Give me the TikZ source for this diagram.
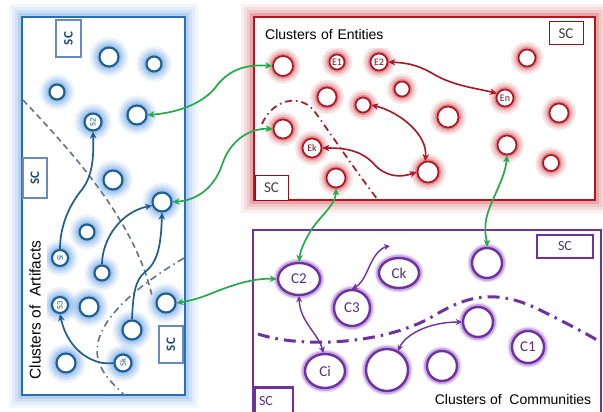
\documentclass[tikz,border=0pt]{standalone}
\usepackage{graphicx}
\usepackage{fontspec}
\setmainfont{Liberation Sans}
\newfontfamily\calfont{Carlito}
\usetikzlibrary{arrows.meta,shapes.geometric}

\definecolor{bline}{RGB}{40,110,180}
\definecolor{bstroke}{RGB}{30,95,145}
\definecolor{bglowc}{RGB}{100,160,230}
\definecolor{scblue}{RGB}{100,140,195}
\definecolor{rline}{RGB}{185,20,30}
\definecolor{rstroke}{RGB}{175,20,35}
\definecolor{rglowc}{RGB}{210,70,75}
\definecolor{pline}{RGB}{112,48,160}
\definecolor{pglowc}{RGB}{150,90,205}
\definecolor{ptext}{RGB}{90,45,130}
\definecolor{gline}{RGB}{34,170,75}
\definecolor{grayd}{RGB}{100,115,130}

\tikzset{
  bglow/.style={preaction={draw=bglowc,line width=20pt,opacity=.12},
                preaction={draw=bglowc,line width=15pt,opacity=.18},
                preaction={draw=bglowc,line width=10pt,opacity=.25},
                preaction={draw=bglowc,line width=5pt,opacity=.4}},
  rglow/.style={preaction={draw=rglowc,line width=15pt,opacity=.14},
                preaction={draw=rglowc,line width=10pt,opacity=.22},
                preaction={draw=rglowc,line width=5pt,opacity=.45}},
  pglow/.style={preaction={draw=pglowc,line width=9pt,opacity=.2},
                preaction={draw=pglowc,line width=6pt,opacity=.4}},
  panelglow/.style={preaction={draw=#1,line width=26pt,opacity=.08},
                preaction={draw=#1,line width=20pt,opacity=.1},
                preaction={draw=#1,line width=14pt,opacity=.14},
                preaction={draw=#1,line width=8pt,opacity=.25}},
  bc/.style={circle,draw=bstroke,line width=2.1pt,fill=white,inner sep=0pt,
             minimum size=#1,bglow,text=bstroke,font=\calfont\fontsize{8.5}{8.5}\selectfont},
  rc/.style={circle,draw=rstroke,line width=1.7pt,fill=white,inner sep=0pt,
             minimum size=#1,rglow,text=rstroke!70!black,font=\calfont\fontsize{10}{10}\selectfont},
  pc/.style={circle,draw=pline,line width=2.4pt,fill=white,inner sep=0pt,
             minimum size=#1,pglow,text=ptext,font=\calfont\fontsize{15}{15}\selectfont},
  pe/.style={ellipse,draw=pline,line width=2.4pt,fill=white,inner sep=0pt,
             pglow,text=ptext,font=\calfont\fontsize{15}{15}\selectfont},
  scb/.style={rectangle,draw=scblue,line width=1.6pt,fill=white,inner sep=0pt,
             text=bstroke!80!black,font=\calfont\bfseries\fontsize{13}{13}\selectfont},
  scr/.style={rectangle,draw=rline!80!black,line width=1pt,fill=white,inner sep=0pt,
             text=black!75,font=\calfont\fontsize{15}{15}\selectfont},
  scp/.style={rectangle,draw=pline,line width=2.4pt,fill=white,inner sep=0pt,
             text=ptext,font=\calfont\fontsize{14}{14}\selectfont},
  title/.style={rectangle,fill=white,inner sep=0pt,text=black},
  garrow/.style={draw=gline,line width=1.7pt,
             {Stealth[length=7pt,width=6.5pt]}-{Stealth[length=7pt,width=6.5pt]}},
  rarrow/.style={draw=rstroke,line width=1.6pt,
             {Stealth[length=7pt,width=6.5pt]}-{Stealth[length=7pt,width=6.5pt]}},
  parrow/.style={draw=pline,line width=1.4pt,
             {Stealth[length=6pt,width=6pt]}-{Stealth[length=6pt,width=6pt]}},
  barrow/.style={draw=bstroke,line width=1.7pt,-{Stealth[length=7pt,width=6.5pt]}},
}

\begin{document}
\begin{tikzpicture}[x=1pt,y=-1pt]
\useasboundingbox (0,0) rectangle (603,412);
\fill[white] (0,0) rectangle (603,412);

% ---------- panels ----------
\draw[draw=bline,line width=2.6pt,fill=white,panelglow=bglowc]
  (22,17) rectangle (185,395);
\draw[draw=rline,line width=2.8pt,fill=white,panelglow=rglowc]
  (254,17) rectangle (595,200);
\draw[draw=pline,line width=2.8pt,fill=white] (253,230) rectangle (601,418);

% ---------- partition lines ----------
\draw[grayd,line width=1.6pt,dash pattern=on 6pt off 4pt]
  (23,100) .. controls (70,150) and (135,220) .. (152,296);
\draw[grayd,line width=1.6pt,dash pattern=on 7pt off 4pt on 1.5pt off 4pt]
  (184,258) .. controls (130,290) and (85,330) .. (100,365)
  .. controls (105,378) and (118,388) .. (125,396);
\draw[rstroke,line width=1.7pt,dash pattern=on 7pt off 4pt on 1.5pt off 4pt]
  (262,124) .. controls (272,100) and (300,92) .. (315,112)
  .. controls (335,140) and (355,170) .. (378,200);
\draw[pline,line width=3pt,dash pattern=on 12pt off 6pt on 2.5pt off 6pt]
  (258,334) .. controls (300,348) and (380,345) .. (430,318)
  .. controls (460,300) and (490,285) .. (540,310)
  .. controls (560,320) and (580,330) .. (597,340);

% ---------- artifact clusters ----------
\node[bc=19pt] (a1)  at (109,57)  {};
\node[bc=15pt] (a2)  at (154,64)  {};
\node[bc=15pt] (a3)  at (57,92)   {};
\node[bc=17pt] (aS2) at (93,122)  {\rotatebox{90}{S2}};
\node[bc=19pt] (a5)  at (137,115) {};
\node[bc=19pt] (a6)  at (113,180) {};
\node[bc=19pt] (a7)  at (162,202) {};
\node[bc=15pt] (a8)  at (87,232)  {};
\node[bc=16pt] (aSi) at (60,258)  {\rotatebox{90}{Si}};
\node[bc=15pt] (a10) at (102,273) {};
\node[bc=16pt] (aS3) at (60,305)  {\rotatebox{90}{S3}};
\node[bc=19pt] (a12) at (89,307)  {};
\node[bc=19pt] (a13) at (166,303) {};
\node[bc=19pt] (a14) at (132,330) {};
\node[bc=19pt] (a15) at (66,363)  {};
\node[bc=17pt] (aSk) at (123,363) {\rotatebox{90}{Sk}};

\node[scb,minimum width=25pt,minimum height=37pt] (asc1) at (68.5,38.5) {\rotatebox{90}{SC}};
\node[scb,minimum width=24pt,minimum height=40pt] (asc2) at (35,178)   {\rotatebox{90}{SC}};
\node[scb,minimum width=24pt,minimum height=37pt] (asc3) at (171,344.5) {\rotatebox{90}{SC}};

% ---------- entity clusters ----------
\node[rc=20pt] (r1)  at (283,66)  {};
\node[rc=15pt] (rE1) at (337,62)  {E1};
\node[rc=17pt] (rE2) at (379,62)  {E2};
\node[rc=15pt] (r4)  at (402,89)  {};
\node[rc=19pt] (r5)  at (327,97)  {};
\node[rc=15pt] (r6)  at (363,105) {};
\node[rc=21pt] (r7)  at (448,117) {};
\node[rc=17pt] (rEn) at (505,98)  {En};
\node[rc=17pt] (r9)  at (527,58)  {};
\node[rc=19pt] (r10) at (559,113) {};
\node[rc=19pt] (r11) at (283,129) {};
\node[rc=19pt] (rEk) at (312,148) {Ek};
\node[rc=19pt] (r13) at (507,145) {};
\node[rc=21pt] (r14) at (428,172) {};
\node[rc=19pt] (r15) at (336,178) {};
\node[rc=16pt] (r16) at (551,163) {};

\node[scr,minimum width=34pt,minimum height=23pt] (rsc1) at (566,33.5)   {SC};
\node[scr,minimum width=33pt,minimum height=25pt] (rsc2) at (271.5,187.5) {SC};

% ---------- community clusters ----------
\node[pe,minimum width=42pt,minimum height=32pt] (pC2) at (299,279) {C2};
\node[pe,minimum width=40pt,minimum height=30pt] (pCk) at (399,273) {Ck};
\node[pe,minimum width=36pt,minimum height=36pt] (pC3) at (352,308) {C3};
\node[pc=30pt] (p4)  at (487,263) {};
\node[pc=30pt] (p5)  at (478,322) {};
\node[pc=32pt] (pC1) at (528,347) {C1};
\node[pe,minimum width=40pt,minimum height=34pt] (pCi) at (325,371) {Ci};
\node[pc=42pt] (p8)  at (387,370) {};
\node[pc=30pt] (p9)  at (442,366) {};

\node[scp,minimum width=56pt,minimum height=23pt] (psc1) at (565,246.5) {SC};
\node[scp,minimum width=38pt,minimum height=27pt,text width=30pt,align=left] (psc2) at (274,401) {SC};

% ---------- links inside panels ----------
\draw[barrow] (aSi.north) .. controls (60,225) and (70,205) .. (80,192)
  .. controls (92,178) and (94,160) .. (aS2.south);
\draw[barrow] (a10.north) .. controls (102,240) and (120,212) .. (a7.200);
\draw[barrow] (a14.north) .. controls (133,295) and (135,280) .. (145,272)
  .. controls (158,262) and (161,245) .. (a7.south);
\draw[barrow] (aSk.west) .. controls (95,366) and (68,352) .. (aS3.south);

\draw[rarrow] (rE2.east) .. controls (410,63) and (420,66) .. (435,75)
  .. controls (455,86) and (475,88) .. (rEn.150);
\draw[rarrow] (r6.east) .. controls (400,112) and (428,135) .. (r14.105);
\draw[rarrow] (rEk.east) .. controls (345,148) and (360,150) .. (373,163)
  .. controls (385,177) and (400,178) .. (r14.west);

\coordinate (ckmark) at (390,246);
\draw[parrow] (pC3.north) .. controls (365,282) and (368,266) .. (375,256)
  .. controls (379,250) and (384,247) .. (ckmark);
\draw[parrow] (pC2.south) .. controls (300,322) and (318,333) .. (pCi.95);
\draw[parrow] (p8.60) .. controls (405,335) and (428,322) .. (p5.west);

% ---------- links between panels ----------
\draw[garrow] (a5.east) .. controls (185,112) and (205,100) .. (215,88)
  .. controls (228,70) and (245,64) .. (r1.west);
\draw[garrow] (a7.east) .. controls (200,200) and (215,185) .. (222,165)
  .. controls (230,140) and (250,128) .. (r11.west);
\draw[garrow] (a13.east) .. controls (195,300) and (205,296) .. (215,292)
  .. controls (235,284) and (255,278) .. (pC2.west);
\draw[garrow] (r15.south) .. controls (336,205) and (318,218) .. (310,232)
  .. controls (303,244) and (300,252) .. (pC2.north);
\draw[garrow] (r13.south) .. controls (505,180) and (490,200) .. (486,220)
  .. controls (484,235) and (487,240) .. (p4.north);

% ---------- panel titles ----------
\node[title,anchor=west,minimum width=150pt,minimum height=28pt,text width=134pt,
      inner xsep=8pt,align=left,font=\fontsize{14}{14}\selectfont] (tent) at (257,34)
  {Clusters of Entities};
\node[title,minimum width=24pt,minimum height=164pt,font=\fontsize{15.5}{15.5}\selectfont]
  (tart) at (35,310) {\rotatebox{90}{Clusters of\ \ Artifacts}};
\node[title,minimum width=170pt,minimum height=26pt,font=\fontsize{14}{14}\selectfont]
  (tcom) at (513,399) {Clusters of\ \ Communities};
\end{tikzpicture}
\end{document}
